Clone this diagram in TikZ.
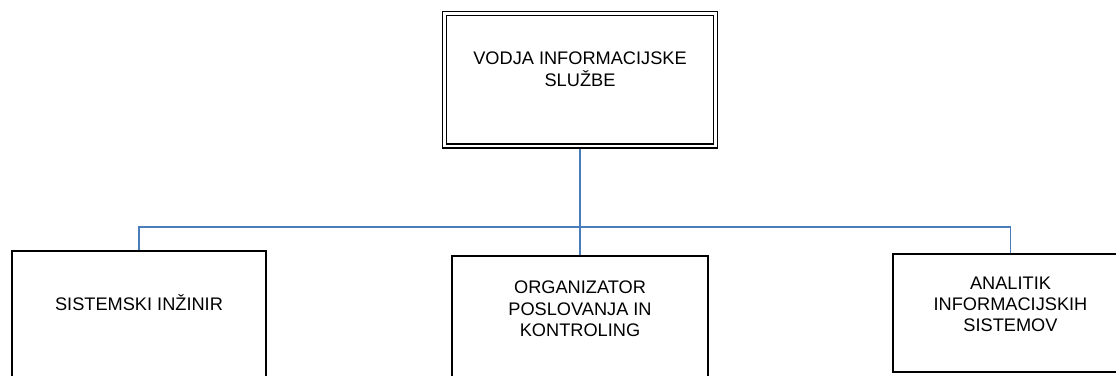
\documentclass[tikz,border=0pt]{standalone}
\usepackage{fontspec}
\setmainfont{Liberation Sans}
\usetikzlibrary{%
	positioning,%
	backgrounds
}
\definecolor{linkblue}{RGB}{74,126,187}

\begin{document}
\begin{tikzpicture}[x=1pt, y=-1pt,
		box/.style={draw, rectangle, line width=1.8pt, outer sep=0pt, inner sep=0pt},
		txt/.style={font=\fontsize{18.2}{21.3}\selectfont, align=center, inner sep=0pt, anchor=north},
		link/.style={draw=linkblue, line width=1.8pt}
	]
		\path[use as bounding box, clip] (0,0) rectangle (1116,375);
		
		\node[box, double, line width=1.3pt, double distance=2.5pt, minimum width=271pt, minimum height=132.5pt] (vodja) at (580,79.75) {};
		\node[box, anchor=north west, minimum width=254pt, minimum height=200pt] (sistem) at (12,251) {};
		\node[box, anchor=north west, minimum width=256pt, minimum height=200pt] (organizator) at (452,256) {};
		\node[box, anchor=north west, minimum width=235pt, minimum height=118pt] (analitik) at (893,254) {};
		
		\node[txt, below=38.5pt of vodja.north] (vodjatxt) {VODJA INFORMACIJSKE\\SLUŽBE};
		\node[txt, below=43.5pt of sistem.north] (sistemtxt) {SISTEMSKI INŽINIR};
		\node[txt, below=25pt of organizator.north] (organizatortxt) {ORGANIZATOR\\POSLOVANJA IN\\KONTROLING};
		\node[txt, below=22.5pt of analitik.north] (analitiktxt) {ANALITIK\\INFORMACIJSKIH\\SISTEMOV};
		
		\coordinate (bus) at (0,227);
		\begin{scope}[on background layer]
			\draw[link] (vodja.south) |- (sistem.north |- bus) -- (sistem.north);
			\draw[link] (vodja.south) |- (analitik.north |- bus) -- (analitik.north);
			\draw[link] (vodja.south) -- (organizator.north);
		\end{scope}
	\end{tikzpicture}
\end{document}
